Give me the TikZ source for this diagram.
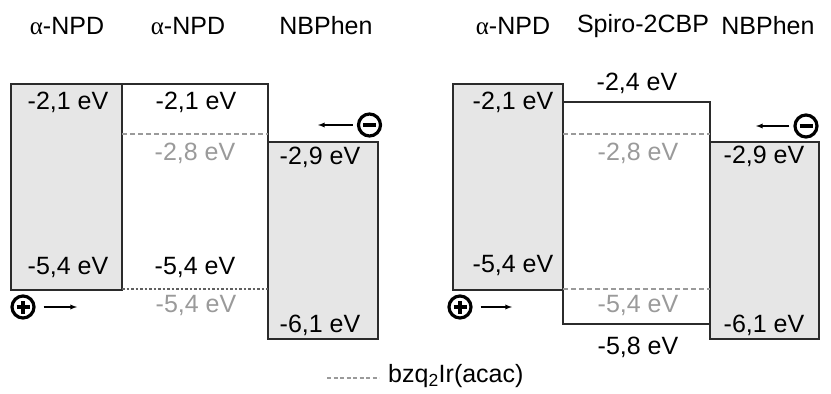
\documentclass[tikz,border=0pt]{standalone}
\usepackage{fontspec}
\setmainfont{Liberation Sans}
\newfontfamily\greekserif{Liberation Serif}
\newcommand{\alphaNPD}{{\greekserif α}-NPD}
\definecolor{boxfill}{HTML}{E6E6E6}
\definecolor{edge}{HTML}{2B2B2B}
\definecolor{lvl}{HTML}{9A9A9A}
\tikzset{
  layer/.style={draw=edge, line width=2pt},
  graylayer/.style={layer, fill=boxfill},
  dopant/.style={draw=lvl, line width=2pt, dash pattern=on 5pt off 3pt},
  val/.style={inner sep=0pt, text=black},
  gval/.style={inner sep=0pt, text=lvl},
  hdr/.style={inner sep=0pt, text=black},
  charge/.style={circle, draw=black, line width=3.2pt, minimum size=22pt, inner sep=0pt},
  flow/.style={-latex, line width=1.3pt, black},
}
\begin{document}
\begin{tikzpicture}[x=1pt,y=-1pt,font=\fontsize{25}{28}\selectfont]
\useasboundingbox (0,0) rectangle (831,394);
% ---------------- left stack ----------------
\draw[graylayer] (11,84) rectangle (122,290);
\draw[graylayer] (268,142) rectangle (378,339);
\draw[layer] (122,290) -- (122,84) -- (268,84) -- (268,290);
\draw[draw=edge!75, line width=2pt, dash pattern=on 2.5pt off 2pt] (122,289) -- (268,289);
\draw[dopant] (122,134) -- (268,134);
% ---------------- right stack ----------------
\draw[graylayer] (453,84) rectangle (563,290);
\draw[graylayer] (710,142) rectangle (819,339);
\draw[layer] (563,102) rectangle (710,324);
\draw[dopant] (563,134) -- (710,134);
\draw[dopant] (563,289) -- (710,289);
% ---------------- headers ----------------
\node[hdr] (h1) at (67,26) {\alphaNPD};
\node[hdr] (h2) at (188,26) {\alphaNPD};
\node[hdr] (h3) at (326,26) {NBPhen};
\node[hdr] (h4) at (513,26) {\alphaNPD};
\node[hdr] (h5) at (643,26) {Spiro-2CBP};
\node[hdr] (h6) at (768,26) {NBPhen};
% ---------------- left values ----------------
\node[val] (a1) at (68,102) {-2,1 eV};
\node[val] (a2) at (68,267) {-5,4 eV};
\node[val] (b1) at (196,102) {-2,1 eV};
\node[gval] (b2) at (195,153) {-2,8 eV};
\node[val] (b3) at (195,267) {-5,4 eV};
\node[gval] (b4) at (196,305) {-5,4 eV};
\node[val] (c1) at (320,157) {-2,9 eV};
\node[val] (c2) at (320,325) {-6,1 eV};
% ---------------- right values ----------------
\node[val] (d1) at (513,102) {-2,1 eV};
\node[val] (d2) at (513,265) {-5,4 eV};
\node[val] (e1) at (637,83) {-2,4 eV};
\node[gval] (e2) at (638,153) {-2,8 eV};
\node[gval] (e3) at (638,305) {-5,4 eV};
\node[val] (e4) at (638,347) {-5,8 eV};
\node[val] (f1) at (764,156) {-2,9 eV};
\node[val] (f2) at (764,325) {-6,1 eV};
% ---------------- charges ----------------
\node[charge] (m1) at (369.5,125) {};
\draw[line width=3.8pt] ([xshift=-6.5pt]m1.center) -- ([xshift=6.5pt]m1.center);
\coordinate (m1t) at (318,125);
\draw[flow] ([xshift=-4pt]m1.west) -- (m1t);
\node[charge] (p1) at (23,307) {};
\draw[line width=3.8pt] ([xshift=-6.5pt]p1.center) -- ([xshift=6.5pt]p1.center);
\draw[line width=3.8pt] ([yshift=-6.5pt]p1.center) -- ([yshift=6.5pt]p1.center);
\coordinate (p1t) at (77,307);
\draw[flow] ([xshift=8pt]p1.east) -- (p1t);
\node[charge] (m2) at (806,126) {};
\draw[line width=3.8pt] ([xshift=-6.5pt]m2.center) -- ([xshift=6.5pt]m2.center);
\coordinate (m2t) at (756,126);
\draw[flow] ([xshift=-4pt]m2.west) -- (m2t);
\node[charge] (p2) at (460,307) {};
\draw[line width=3.8pt] ([xshift=-6.5pt]p2.center) -- ([xshift=6.5pt]p2.center);
\draw[line width=3.8pt] ([yshift=-6.5pt]p2.center) -- ([yshift=6.5pt]p2.center);
\coordinate (p2t) at (512,307);
\draw[flow] ([xshift=8pt]p2.east) -- (p2t);
% ---------------- legend ----------------
\coordinate (lg1) at (327,378);
\coordinate (lg2) at (379,378);
\draw[dopant, line width=1.8pt, dash pattern=on 4pt off 2.5pt] (lg1) -- (lg2);
\node[val, anchor=west] (lgt) at (388,376) {bzq\textsubscript{2}Ir(acac)};
\end{tikzpicture}
\end{document}
